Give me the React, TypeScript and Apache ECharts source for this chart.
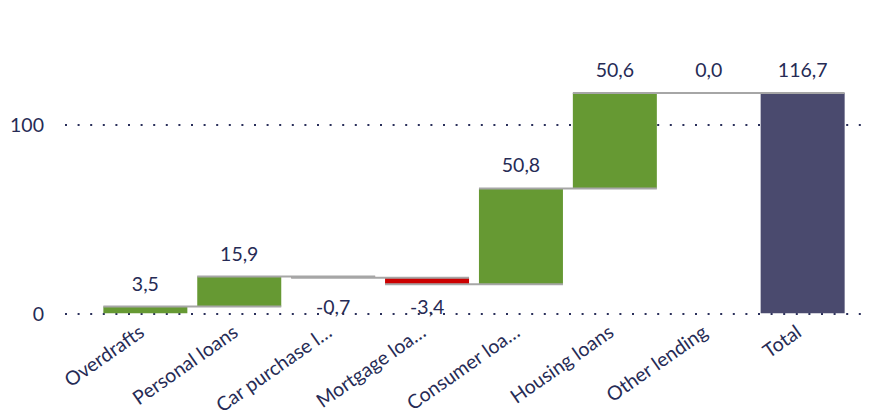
import React, { useEffect, useRef } from "react";
import * as echarts from "echarts";

const categories = [
  "Overdrafts",
  "Personal loans",
  "Car purchase l…",
  "Mortgage loa…",
  "Consumer loa…",
  "Housing loans",
  "Other lending",
  "Total",
];
const changes = [3.5, 15.9, -0.7, -3.4, 50.8, 50.6, 0.0];
const total = 116.7;
const yTicks = [0, 100];

const GREEN = "#669933";
const RED = "#CC0000";
const TOTAL = "#4A4A6E";
const CONNECTOR = "#A6A6A6";
const TEXT = "#262B55";
const FONT = "Lato, 'Open Sans', sans-serif";
const FS = 19.5;

const fmt = (v: number) => v.toFixed(1).replace(".", ",");

export default function App() {
  const ref = useRef<HTMLDivElement>(null);

  useEffect(() => {
    if (!ref.current) return;
    const chart = echarts.init(ref.current, undefined, { renderer: "svg" });

    const starts: number[] = [];
    const ends: number[] = [];
    let acc = 0;
    changes.forEach((c) => {
      starts.push(acc);
      acc = +(acc + c).toFixed(4);
      ends.push(acc);
    });
    const allValues = [...changes, total];

    const baseData = changes
      .map((c, i) => Math.min(starts[i], ends[i]))
      .concat([0]);
    const deltaData = allValues.map((v, i) => {
      const isTotal = i === changes.length;
      const neg = !isTotal && v < 0;
      const item: any = {
        value: Math.abs(v),
        itemStyle: { color: isTotal ? TOTAL : neg ? RED : GREEN },
      };
      if (neg) {
        item.label = {
          position: "bottom",
          distance: i === 2 ? 19 : 12.5,
        };
      }
      return item;
    });
    const connectorData = ends.map((lvl, i) => [i, lvl]);

    chart.setOption({
      animation: false,
      textStyle: { fontFamily: FONT },
      grid: [
        { left: 98.4, right: 32.4, top: 86.7, bottom: 103.5 },
        { left: 65, right: 16, top: 124.5, bottom: 103.5 },
      ],
      xAxis: [
        {
          type: "category",
          gridIndex: 0,
          data: categories,
          axisLine: { show: false },
          axisTick: { show: false },
          splitLine: { show: false },
          axisLabel: {
            interval: 0,
            rotate: 35,
            margin: 13,
            verticalAlign: "middle",
            padding: [0, 5, 0, 0],
            color: TEXT,
            fontSize: FS,
            fontFamily: FONT,
          },
        },
        {
          type: "value",
          gridIndex: 1,
          min: 0,
          max: 1,
          show: false,
        },
      ],
      yAxis: [
        {
          type: "value",
          gridIndex: 0,
          min: 0,
          max: 120,
          show: false,
          splitLine: { show: false },
        },
        {
          type: "value",
          gridIndex: 1,
          min: yTicks[0],
          max: yTicks[yTicks.length - 1],
          interval: 100,
          axisLine: { show: false },
          axisTick: { show: false },
          axisLabel: {
            color: TEXT,
            fontSize: FS,
            margin: 21,
            fontFamily: FONT,
          },
          splitLine: {
            show: true,
            lineStyle: { color: "#2A2F5A", width: 2, type: [2, 10.6] },
          },
        },
      ],
      series: [
        {
          type: "bar",
          xAxisIndex: 0,
          yAxisIndex: 0,
          stack: "wf",
          barWidth: 84,
          itemStyle: { color: "transparent" },
          emphasis: { disabled: true },
          data: baseData,
          z: 2,
        },
        {
          type: "bar",
          xAxisIndex: 0,
          yAxisIndex: 0,
          stack: "wf",
          barWidth: 84,
          data: deltaData,
          z: 2,
          label: {
            show: true,
            position: "top",
            distance: 13.5,
            color: TEXT,
            fontSize: FS,
            fontFamily: FONT,
            formatter: (p: any) => fmt(allValues[p.dataIndex]),
          },
        },
        {
          type: "custom",
          xAxisIndex: 0,
          yAxisIndex: 0,
          z: 3,
          data: connectorData,
          renderItem: (params: any, api: any) => {
            const i = api.value(0);
            const lvl = api.value(1);
            const p1 = api.coord([i, lvl]);
            const p2 = api.coord([i + 1, lvl]);
            const half = (api.size([1, 0])[0] * (84 / 93.9)) / 2;
            return {
              type: "line",
              shape: {
                x1: p1[0] - half,
                y1: p1[1],
                x2: p2[0] + half,
                y2: p2[1],
              },
              style: { stroke: CONNECTOR, lineWidth: 2 },
            };
          },
        },
      ],
    });

    return () => chart.dispose();
  }, []);

  return (
    <div
      ref={ref}
      style={{ position: "absolute", left: 0, top: 0, width: 882, height: 417 }}
    />
  );
}
